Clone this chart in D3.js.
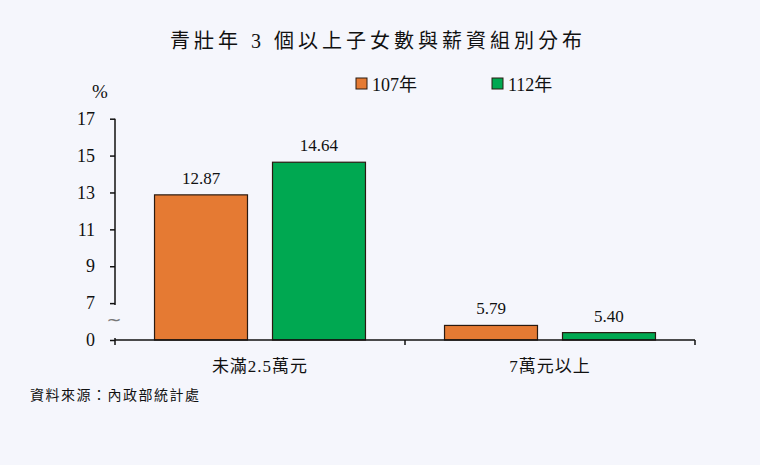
<!DOCTYPE html>
<html>
<head>
<meta charset="utf-8">
<script src="https://cdn.jsdelivr.net/npm/d3@7"></script>
<style>
	body { margin: 0; background: #f5f6fc; }
	text { fill: #111; }
	.num { font-family: "Liberation Serif", "DejaVu Serif", serif; }
	.cjk { font-family: "Liberation Serif", "Noto Sans CJK TC", serif; }
</style>
</head>
<body>
<script>
// chart data
var categories = ["未滿2.5萬元", "7萬元以上"];
var seriesNames = ["107年", "112年"];
var values107 = [12.87, 5.79];
var values112 = [14.64, 5.40];
var tickValues = [5, 7, 9, 11, 13, 15, 17];
var tickLabels = ["0", "7", "9", "11", "13", "15", "17"];
var colors = ["#e57a33", "#00a851"];

var width = 760;
var height = 465;

var svg = d3.select("body").append("svg")
	.attr("width", width).attr("height", height);

svg.append("rect").attr("width", width).attr("height", height).attr("fill", "#f5f6fc");

// broken axis: bottom of the axis stands for 0 but sits where 5 would be
var yScale = d3.scaleLinear()
	.domain([5, 17]).range([340, 118.7]);

var xScale = d3.scaleBand()
	.domain(categories).range([115, 695]);

var subScale = d3.scaleBand()
	.domain(seriesNames).range([0, xScale.bandwidth()])
	.paddingInner(0.212).paddingOuter(0.335);

var rows = categories.map(function(c, i) {
	return { cat: c, vals: [values107[i], values112[i]] };
});

var groups = svg.selectAll("g.cat").data(rows).enter().append("g")
	.attr("class", "cat")
	.attr("transform", function(d) { return "translate(" + xScale(d.cat) + ",0)"; });

groups.selectAll("rect").data(function(d) { return d.vals; }).enter().append("rect")
	.attr("x", function(d, i) { return subScale(seriesNames[i]); })
	.attr("y", function(d) { return yScale(d); })
	.attr("width", subScale.bandwidth())
	.attr("height", function(d) { return yScale(5) - yScale(d); })
	.attr("fill", function(d, i) { return colors[i]; })
	.attr("stroke", "#2a1a10").attr("stroke-width", 1.2);

groups.selectAll("text.val").data(function(d) { return d.vals; }).enter().append("text")
	.attr("class", "val num")
	.attr("x", function(d, i) { return subScale(seriesNames[i]) + subScale.bandwidth() / 2; })
	.attr("y", function(d) { return yScale(d) - 11; })
	.attr("text-anchor", "middle")
	.attr("font-size", 17)
	.text(function(d) { return d.toFixed(2); });

// y axis
var yAxis = d3.axisLeft(yScale).tickValues(tickValues).tickSize(5)
	.tickFormat(function(d, i) { return tickLabels[i]; });
var yg = svg.append("g").attr("transform", "translate(115,0)").call(yAxis);
yg.select(".domain").remove();
yg.selectAll("line").attr("stroke", "#111").attr("stroke-width", 1.5);
yg.selectAll("text").attr("class", "num").attr("font-size", 18).attr("x", -20).attr("fill", "#111");
// axis line with a gap for the break
svg.append("line").attr("x1", 115).attr("x2", 115)
	.attr("y1", yScale(17)).attr("y2", yScale(7) + 2)
	.attr("stroke", "#111").attr("stroke-width", 1.5);
svg.append("line").attr("x1", 115).attr("x2", 115)
	.attr("y1", yScale(5) - 2).attr("y2", yScale(5))
	.attr("stroke", "#111").attr("stroke-width", 1.5);
svg.append("text").attr("x", 114).attr("y", 326)
	.attr("text-anchor", "middle").attr("font-size", 18)
	.style("fill", "#777").attr("font-family", "DejaVu Sans")
	.text("~");

// x axis
var xAxis = d3.axisBottom(xScale).tickSize(0).tickFormat("");
var xg = svg.append("g").attr("transform", "translate(0,340)").call(xAxis);
xg.select(".domain").attr("d", "M115,0H695").attr("stroke", "#111").attr("stroke-width", 1.5);
xg.selectAll(".tick").remove();
var bounds = [115, 405, 695];
bounds.forEach(function(b) {
	svg.append("line").attr("x1", b).attr("x2", b).attr("y1", 340).attr("y2", 345)
		.attr("stroke", "#111").attr("stroke-width", 1.5);
});
svg.selectAll("text.catlab").data(categories).enter().append("text")
	.attr("class", "catlab cjk")
	.attr("x", function(d) { return xScale(d) + xScale.bandwidth() / 2; })
	.attr("y", 372)
	.attr("text-anchor", "middle")
	.attr("font-size", 17)
	.attr("letter-spacing", 1)
	.text(function(d) { return d; });

// % label
svg.append("text").attr("class", "num").attr("x", 100).attr("y", 98)
	.attr("text-anchor", "middle").attr("font-size", 19).text("%");

// title
svg.append("text").attr("class", "cjk").attr("x", 378).attr("y", 48)
	.attr("text-anchor", "middle").attr("font-size", 20).attr("letter-spacing", 4)
	.text("青壯年 3 個以上子女數與薪資組別分布");

// legend
var legendX = [356, 492];
seriesNames.forEach(function(s, i) {
	svg.append("rect").attr("x", legendX[i]).attr("y", 78).attr("width", 11).attr("height", 11)
		.attr("fill", colors[i]).attr("stroke", "#2a1a10").attr("stroke-width", 1);
	svg.append("text").attr("class", "cjk").attr("x", legendX[i] + 16).attr("y", 91)
		.attr("font-size", 18).text(s);
});

// source
svg.append("text").attr("class", "cjk").attr("x", 30).attr("y", 400)
	.attr("font-size", 14).attr("letter-spacing", 1.5)
	.text("資料來源：內政部統計處");
</script>
</body>
</html>
